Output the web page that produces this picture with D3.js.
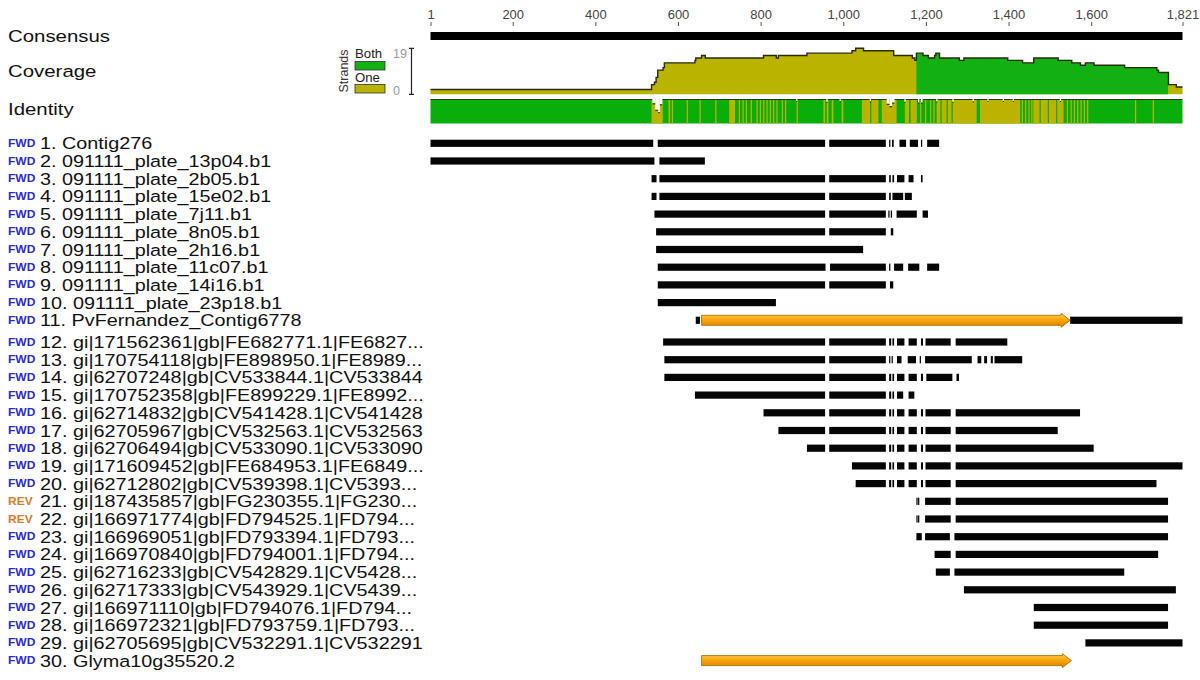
<!DOCTYPE html>
<html><head><meta charset="utf-8">
<script src="https://cdn.jsdelivr.net/npm/d3@7"></script>
<style>body{margin:0;background:#fff;} svg{display:block;}</style>
</head><body><svg id="chart" width="1200" height="680"></svg>
<script>
const seqStart = 1, seqEnd = 1821;
const axisTicks = [1,200,400,600,800,1000,1200,1400,1600,1821];
const trackLabels = ["Consensus","Coverage","Identity"];
const readNames = [
 "1. Contig276","2. 091111_plate_13p04.b1","3. 091111_plate_2b05.b1","4. 091111_plate_15e02.b1",
 "5. 091111_plate_7j11.b1","6. 091111_plate_8n05.b1","7. 091111_plate_2h16.b1","8. 091111_plate_11c07.b1",
 "9. 091111_plate_14i16.b1","10. 091111_plate_23p18.b1","11. PvFernandez_Contig6778",
 "12. gi|171562361|gb|FE682771.1|FE6827...","13. gi|170754118|gb|FE898950.1|FE8989...",
 "14. gi|62707248|gb|CV533844.1|CV533844","15. gi|170752358|gb|FE899229.1|FE8992...",
 "16. gi|62714832|gb|CV541428.1|CV541428","17. gi|62705967|gb|CV532563.1|CV532563",
 "18. gi|62706494|gb|CV533090.1|CV533090","19. gi|171609452|gb|FE684953.1|FE6849...",
 "20. gi|62712802|gb|CV539398.1|CV5393...","21. gi|187435857|gb|FG230355.1|FG230...",
 "22. gi|166971774|gb|FD794525.1|FD794...","23. gi|166969051|gb|FD793394.1|FD793...",
 "24. gi|166970840|gb|FD794001.1|FD794...","25. gi|62716233|gb|CV542829.1|CV5428...",
 "26. gi|62717333|gb|CV543929.1|CV5439...","27. gi|166971110|gb|FD794076.1|FD794...",
 "28. gi|166972321|gb|FD793759.1|FD793...","29. gi|62705695|gb|CV532291.1|CV532291",
 "30. Glyma10g35520.2"];
const readStrands = ["FWD","FWD","FWD","FWD","FWD","FWD","FWD","FWD","FWD","FWD","FWD","FWD","FWD","FWD","FWD",
 "FWD","FWD","FWD","FWD","FWD","REV","REV","FWD","FWD","FWD","FWD","FWD","FWD","FWD","FWD"];
// visible (un-annotated) aligned pieces of every read, in alignment positions
const readSegments = [
 [[1,540],[551,956],[966,1103],[1111,1114],[1118,1122],[1136,1152],[1161,1181],[1188,1191],[1203,1232]],
 [[1,543],[555,665]],
 [[536,548],[555,956],[966,1103],[1111,1115],[1119,1123],[1130,1148],[1158,1170],[1188,1192]],
 [[536,548],[555,956],[966,1103],[1111,1115],[1119,1145],[1149,1166]],
 [[543,956],[966,1103],[1109,1112],[1115,1118],[1129,1178],[1192,1205]],
 [[547,956],[966,1103],[1115,1121]],
 [[547,1048]],
 [[551,957],[968,1103],[1111,1114],[1123,1145],[1157,1184],[1203,1232]],
 [[551,956],[966,1103],[1113,1121]],
 [[551,837]],
 [[643,653],[1549,1821]],
 [[564,956],[966,1103],[1111,1116],[1119,1123],[1130,1148],[1158,1178],[1188,1193],[1199,1260],[1272,1397]],
 [[567,956],[966,1103],[1111,1113],[1117,1120],[1130,1141],[1156,1176],[1185,1188],[1198,1311],[1325,1334],[1341,1348],[1357,1362],[1366,1433]],
 [[567,956],[966,1103],[1111,1116],[1119,1123],[1130,1148],[1158,1178],[1188,1193],[1201,1264],[1274,1280]],
 [[641,956],[966,1103],[1111,1116],[1119,1123],[1130,1145],[1158,1172]],
 [[807,956],[966,1103],[1111,1116],[1119,1123],[1130,1148],[1158,1178],[1188,1193],[1199,1260],[1272,1573]],
 [[843,956],[966,1103],[1111,1116],[1119,1123],[1130,1148],[1158,1178],[1188,1193],[1199,1260],[1272,1519]],
 [[912,956],[966,1103],[1111,1116],[1119,1123],[1130,1148],[1158,1178],[1188,1193],[1199,1260],[1272,1606]],
 [[1021,1103],[1111,1116],[1119,1123],[1130,1148],[1158,1178],[1188,1193],[1199,1260],[1272,1821]],
 [[1030,1103],[1111,1116],[1119,1123],[1130,1148],[1158,1178],[1188,1193],[1199,1260],[1272,1758]],
 [[1177,1179],[1181,1184],[1198,1260],[1272,1786]],
 [[1177,1179],[1181,1184],[1198,1260],[1272,1786]],
 [[1177,1190],[1198,1258],[1269,1786]],
 [[1221,1260],[1272,1762]],
 [[1224,1258],[1269,1680]],
 [[1292,1805]],
 [[1461,1786]],
 [[1461,1786]],
 [[1586,1821]],
 []
];
const annotationRows = [11, 30];
const annotationStarts = [657, 657];
const annotationEnds = [1549, 1552];
const coveragePos = [1,536,543,547,551,564,567,641,643,657,666,807,838,843,912,1021,1030,1049,1122,1167,1173,1177,1193,1206,1221,1224,1233,1281,1292,1398,1434,1461,1520,1553,1574,1586,1607,1681,1759,1763,1787,1806];
const coverageVal = [2,4,5,7,10,11,13,14,15,16,15,16,15,16,17,18,19,18,16,15,14,17,16,15,16,17,15,14,15,14,13,15,14,13,12,13,12,11,10,9,4,3];
const coverageMax = 19;
const bothStrandsRange = [1177, 1786];
const identityMismatch = [[536,563],[577,581],[585,588],[621,624],[652,655],[690,693],[724,738],[747,750],[756,759],[764,767],[776,779],[790,793],[798,801],[806,809],[814,817],[822,825],[830,833],[838,841],[851,854],[859,862],[887,890],[952,956],[960,964],[972,976],[996,1000],[1045,1065],[1068,1085],[1093,1129],[1149,1159],[1163,1178],[1186,1189],[1198,1201],[1210,1213],[1218,1221],[1226,1235],[1238,1250],[1253,1262],[1265,1323],[1331,1428],[1432,1435],[1440,1443],[1448,1451],[1455,1458],[1460,1475],[1478,1495],[1498,1515],[1518,1533],[1541,1544],[1550,1553],[1558,1561],[1566,1569],[1574,1577],[1582,1585],[1590,1593],[1706,1709],[1749,1752]];
const identityDips = [[538,545,82],[545,552,55],[552,556,45],[556,562,78],[886,889,92],[959,962,88],[991,994,90],[1064,1067,90],[1105,1112,80],[1112,1118,70],[1118,1124,85],[1148,1151,88],[1181,1184,85],[1188,1192,85],[1225,1228,90],[1264,1267,88],[1313,1316,90],[1349,1352,92],[1386,1389,92],[1410,1413,92],[1524,1527,92]];

const FONT = "'Liberation Sans', Arial, sans-serif";
const svg = d3.select("#chart");
const x = d3.scaleLinear().domain([seqStart, seqEnd]).range([430.5, 1182.5]);
const rowScale = d3.scaleLinear().domain([1, 30]).range([143.3, 143.3 + 29 * 17.7]);
const yRow = i => rowScale(i) + (i >= 12 ? 4 : 0);

// axis
const axis = d3.axisTop(x).tickValues(axisTicks).tickFormat(d3.format(",")).tickSize(4).tickPadding(3);
const gAxis = svg.append("g").attr("transform", "translate(0,26)").call(axis);
gAxis.select(".domain").remove();
gAxis.selectAll("line").attr("stroke", "#555");
gAxis.selectAll("text").attr("font-family", FONT).attr("font-size", 13).attr("fill", "#444");

// track labels
const trackY = [42, 77, 115];
trackLabels.forEach((t, i) => {
  svg.append("text").attr("transform", `translate(8,${trackY[i]}) scale(1.2,1)`)
    .attr("font-family", FONT).attr("font-size", 17).attr("fill", "#111").text(t);
});

// consensus
svg.append("rect").attr("x", x(seqStart)).attr("width", x(seqEnd) - x(seqStart))
  .attr("y", 32).attr("height", 8).attr("fill", "#000");

// coverage
const yCov = d3.scaleLinear().domain([0, coverageMax]).range([94.3, 48.3]);
const covData = coveragePos.map((p, i) => ({p, v: coverageVal[i]}));
covData.push({p: seqEnd, v: coverageVal[coverageVal.length - 1]});
const area = d3.area().x(d => x(d.p)).y0(yCov(0)).y1(d => yCov(d.v)).curve(d3.curveStepAfter);
const line = d3.line().x(d => x(d.p)).y(d => yCov(d.v)).curve(d3.curveStepAfter);
const defs = svg.append("defs");
defs.append("clipPath").attr("id", "both").append("rect")
  .attr("x", x(bothStrandsRange[0])).attr("width", x(bothStrandsRange[1]) - x(bothStrandsRange[0]))
  .attr("y", 0).attr("height", 130);
svg.append("path").datum(covData).attr("d", area).attr("fill", "#bab300");
svg.append("path").datum(covData).attr("d", area).attr("fill", "#12b012").attr("clip-path", "url(#both)");
svg.append("path").datum(covData).attr("d", line).attr("fill", "none").attr("stroke", "#2b2b12").attr("stroke-width", 1.4);

// coverage legend
const lg = svg.append("g").attr("font-family", FONT);
lg.append("text").attr("transform", "translate(348,71) rotate(-90)").attr("text-anchor", "middle")
  .attr("font-size", 12.5).attr("fill", "#333").text("Strands");
lg.append("text").attr("transform", "translate(355,58) scale(1.1,1)").attr("font-size", 12).attr("fill", "#222").text("Both");
lg.append("rect").attr("x", 355).attr("y", 61.5).attr("width", 30).attr("height", 8.5).attr("fill", "#12b012").attr("stroke", "#333").attr("stroke-width", 0.8);
lg.append("text").attr("transform", "translate(355,82) scale(1.1,1)").attr("font-size", 12).attr("fill", "#222").text("One");
lg.append("rect").attr("x", 355).attr("y", 84.5).attr("width", 30).attr("height", 8.5).attr("fill", "#bab300").attr("stroke", "#333").attr("stroke-width", 0.8);
lg.append("text").attr("x", 393).attr("y", 58).attr("font-size", 12.5).attr("fill", "#999").text(coverageMax);
lg.append("text").attr("x", 393).attr("y", 95).attr("font-size", 12.5).attr("fill", "#999").text("0");
lg.append("path").attr("d", `M409,${yCov(coverageMax)}H414M411.5,${yCov(coverageMax)}V${yCov(0)}M409,${yCov(0)}H414`)
  .attr("stroke", "#222").attr("stroke-width", 1.2).attr("fill", "none");

// identity
const yId = d3.scaleLinear().domain([0, 100]).range([123.5, 99.5]);
svg.append("rect").attr("x", x(seqStart)).attr("width", x(seqEnd) - x(seqStart))
  .attr("y", yId(100)).attr("height", yId(0) - yId(100)).attr("fill", "#0aae0a");
svg.selectAll("rect.mm").data(identityMismatch).join("rect").attr("class", "mm")
  .attr("x", d => x(d[0])).attr("width", d => Math.max(1.2, x(d[1]) - x(d[0])))
  .attr("y", yId(100)).attr("height", yId(0) - yId(100)).attr("fill", "#bcb300");
svg.append("line").attr("x1", x(seqStart)).attr("x2", x(seqEnd)).attr("y1", yId(100)).attr("y2", yId(100))
  .attr("stroke", "#1f3d10").attr("stroke-width", 1.2);
svg.selectAll("rect.dip").data(identityDips).join("rect").attr("class", "dip")
  .attr("x", d => x(d[0])).attr("width", d => x(d[1]) - x(d[0]))
  .attr("y", yId(100) - 1).attr("height", d => yId(d[2]) - yId(100) + 1).attr("fill", "#fff");
svg.selectAll("line.dip").data(identityDips).join("line").attr("class", "dip")
  .attr("x1", d => x(d[0])).attr("x2", d => x(d[1])).attr("y1", d => yId(d[2])).attr("y2", d => yId(d[2]))
  .attr("stroke", "#1f3d10").attr("stroke-width", 1.2);

// rows
const rows = svg.append("g");
readNames.forEach((name, idx) => {
  const i = idx + 1, yc = yRow(i);
  const rev = readStrands[idx] === "REV";
  rows.append("text").attr("transform", `translate(8,${yc + 3.5}) scale(1.2,1)`)
    .attr("font-family", FONT).attr("font-size", 10).attr("font-weight", "bold")
    .attr("fill", rev ? "#d8782a" : "#2a2ad0").text(readStrands[idx]);
  rows.append("text").attr("transform", `translate(40,${yc + 6}) scale(1.2,1)`)
    .attr("font-family", FONT).attr("font-size", 16.5).attr("fill", "#111").text(name);
  rows.selectAll(null).data(readSegments[idx]).join("rect")
    .attr("x", d => x(d[0])).attr("width", d => Math.max(1.2, x(d[1]) - x(d[0])))
    .attr("y", yc - 3.6).attr("height", 7.2).attr("fill", "#050505");
});

// annotations (orange arrows)
const grad = defs.append("linearGradient").attr("id", "og").attr("x1", 0).attr("x2", 0).attr("y1", 0).attr("y2", 1);
grad.append("stop").attr("offset", "0%").attr("stop-color", "#ffd35a");
grad.append("stop").attr("offset", "45%").attr("stop-color", "#f7a80c");
grad.append("stop").attr("offset", "100%").attr("stop-color", "#d98100");
annotationRows.forEach((r, k) => {
  const yc = yRow(r), x0 = x(annotationStarts[k]), x1 = x(annotationEnds[k]);
  const hb = 5, hh = 7, hl = 9;
  const p = `M${x0},${yc - hb}H${x1 - hl}V${yc - hh}L${x1},${yc}L${x1 - hl},${yc + hh}V${yc + hb}H${x0}Z`;
  svg.append("path").attr("d", p).attr("fill", "url(#og)").attr("stroke", "#b86c00").attr("stroke-width", 0.9);
});
</script></body></html>
